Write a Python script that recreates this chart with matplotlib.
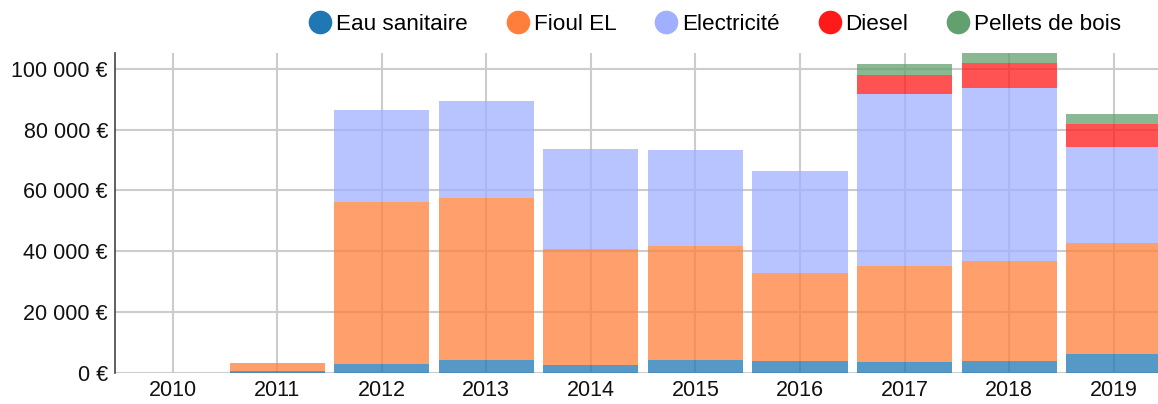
import matplotlib.pyplot as plt
from matplotlib.lines import Line2D
from matplotlib.ticker import FuncFormatter
import numpy as np

plt.rcParams['font.family'] = ['Liberation Sans', 'DejaVu Sans']

years = ['2010', '2011', '2012', '2013', '2014', '2015', '2016', '2017', '2018', '2019']
eau = [0, 500, 2800, 4300, 2500, 4200, 3800, 3500, 3800, 6100]
fioul = [0, 2800, 53400, 53300, 38300, 37600, 29100, 31700, 33000, 36700]
elec = [0, 0, 30300, 31900, 32900, 31500, 33500, 56600, 56900, 31500]
diesel = [0, 0, 0, 0, 0, 0, 0, 6300, 8200, 7400]
pellets = [0, 0, 0, 0, 0, 0, 0, 3500, 3500, 3500]

series = [
    ('Eau sanitaire', eau, '#1f77b4'),
    ('Fioul EL', fioul, '#ff7f3a'),
    ('Electricité', elec, '#a0b0ff'),
    ('Diesel', diesel, '#ff1a1a'),
    ('Pellets de bois', pellets, '#62a06f'),
]

fig = plt.figure(figsize=(11.58, 4.04), dpi=100)
ax = fig.add_axes([115 / 1158, 1 - 373 / 404, 1051 / 1158, 320 / 404])

x = np.arange(len(years))
bottom = np.zeros(len(years))
for name, vals, col in series:
    vals = np.array(vals, dtype=float)
    ax.bar(x, vals, width=0.91, bottom=bottom, color=col, alpha=0.75, zorder=3, linewidth=0)
    bottom += vals

ax.set_xlim(-0.55, 9.5)
ax.set_ylim(0, 105200)
ax.set_yticks([0, 20000, 40000, 60000, 80000, 100000])
ax.yaxis.set_major_formatter(FuncFormatter(lambda v, p: '{:,.0f} €'.format(v).replace(',', ' ')))
ax.set_xticks(x)
ax.set_xticklabels(years)
ax.tick_params(length=0, labelsize=15.5, colors='#111111', pad=5)
ax.grid(True, color='#cccccc', linewidth=1.5, zorder=0)
ax.set_axisbelow(True)
for s in ['top', 'right', 'bottom']:
    ax.spines[s].set_visible(False)
ax.spines['left'].set_color('#444444')
ax.spines['left'].set_linewidth(1.2)

handles = [Line2D([], [], marker='o', linestyle='', markersize=16, color=c, label=n)
           for n, v, c in series]
fig.legend(handles=handles, loc='upper right', bbox_to_anchor=(0.986, 1.015), ncol=5,
           frameon=False, fontsize=16.2, handletextpad=0.11, columnspacing=1.62,
           handlelength=1.2)

fig.savefig('out.png', dpi=100)
